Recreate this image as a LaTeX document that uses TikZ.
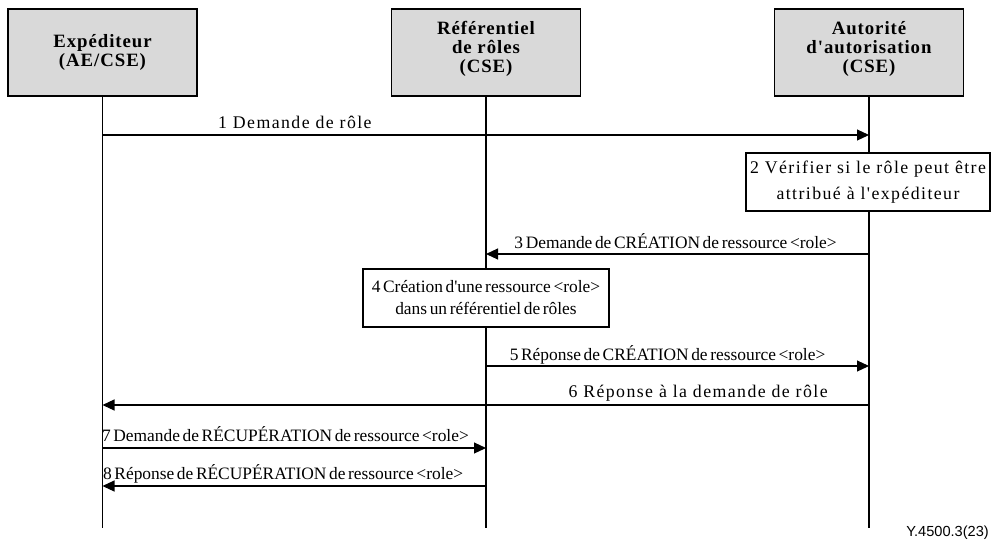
\documentclass[tikz,border=0pt]{standalone}
\usepackage{fontspec}
\setmainfont{Liberation Serif}
\setsansfont{Liberation Sans}
\newfontfamily\headfont[LetterSpace=5]{Liberation Serif}
\newfontfamily\widefont[LetterSpace=8]{Liberation Serif}
\newfontfamily\tightfont[WordSpace=0.6]{Liberation Serif}
\usetikzlibrary{arrows.meta}
\definecolor{hdrgray}{HTML}{D9D9D9}

\begin{document}
\begin{tikzpicture}[x=1pt,y=-1pt,
  actor/.style={draw, fill=hdrgray, line width=1.1pt, minimum width=189pt,
    minimum height=87pt, inner sep=0pt, align=center,
    font=\headfont\bfseries\fontsize{18.8}{18.8}\selectfont},
  tallactor/.style={actor, text depth=11pt},
  notebox/.style={draw, fill=white, line width=1.1pt, inner sep=0pt,
    align=center, minimum height=58pt},
  lifeline/.style={line width=1.1pt},
  msg/.style={line width=1.1pt, -{Triangle[length=12pt,width=11pt]}},
  widelbl/.style={font=\widefont\fontsize{17.8}{20}\selectfont, inner sep=0pt, anchor=base},
  tightlbl/.style={font=\tightfont\fontsize{17.4}{20}\selectfont, inner sep=0pt, anchor=base}
]
\useasboundingbox (0,0) rectangle (992,541);

% participants
\node[actor] (snd) at (102.5,52.5) {Expéditeur\\(AE/CSE)};
\node[tallactor] (rep) at (486,52.5) {Référentiel\\de rôles\\(CSE)};
\node[tallactor] (aut) at (869,52.5) {Autorité\\d'autorisation\\(CSE)};

% lifeline ends
\coordinate (sndEnd) at (102.5,528);
\coordinate (repEnd) at (486,528);
\coordinate (autEnd) at (869,528);

\draw[lifeline] (snd.south) -- (sndEnd);
\draw[lifeline] (rep.south) -- (repEnd);
\draw[lifeline] (aut.south) -- (autEnd);

% message anchor points on the lifelines
\coordinate (s1) at (102.5,135);  \coordinate (a1) at (869,135);
\coordinate (a3) at (869,254);    \coordinate (r3) at (486,254);
\coordinate (r5) at (486,366);    \coordinate (a5) at (869,366);
\coordinate (a6) at (869,405);    \coordinate (s6) at (102.5,405);
\coordinate (s7) at (102.5,448);  \coordinate (r7) at (486,448);
\coordinate (r8) at (486,486);    \coordinate (s8) at (102.5,486);

% 1
\draw[msg] (s1) -- node[widelbl, pos=0.251, yshift=7pt] (m1) {1 Demande de rôle} (a1);

% 2
\node[notebox, minimum width=244pt, font=\widefont\fontsize{17.8}{26}\selectfont] (chk)
  at (868,182) {2 Vérifier si le rôle peut être\\attribué à l'expéditeur};

% 3
\draw[msg] (a3) -- node[tightlbl, pos=0.505, yshift=6pt] (m3) {3 Demande de CRÉATION de ressource <role>} (r3);

% 4
\node[notebox, minimum width=246pt, font=\tightfont\fontsize{17.4}{22}\selectfont] (crt)
  at (486,298) {4 Création d'une ressource <role>\\dans un référentiel de rôles};

% 5
\draw[msg] (r5) -- node[tightlbl, pos=0.474, yshift=6pt] (m5) {5 Réponse de CRÉATION de ressource <role>} (a5);

% 6
\draw[msg] (a6) -- node[widelbl, pos=0.223, yshift=8pt] (m6) {6 Réponse à la demande de rôle} (s6);

% 7
\draw[msg] (s7) -- node[tightlbl, pos=0.477, yshift=7pt] (m7) {7 Demande de RÉCUPÉRATION de ressource <role>} (r7);

% 8
\draw[msg] (r8) -- node[tightlbl, pos=0.529, yshift=7pt] (m8) {8 Réponse de RÉCUPÉRATION de ressource <role>} (s8);

% figure reference
\node[font=\sffamily\fontsize{14.6}{16}\selectfont, anchor=base east, inner sep=0pt] (ref)
  at (989,536) {Y.4500.3(23)};
\end{tikzpicture}
\end{document}
